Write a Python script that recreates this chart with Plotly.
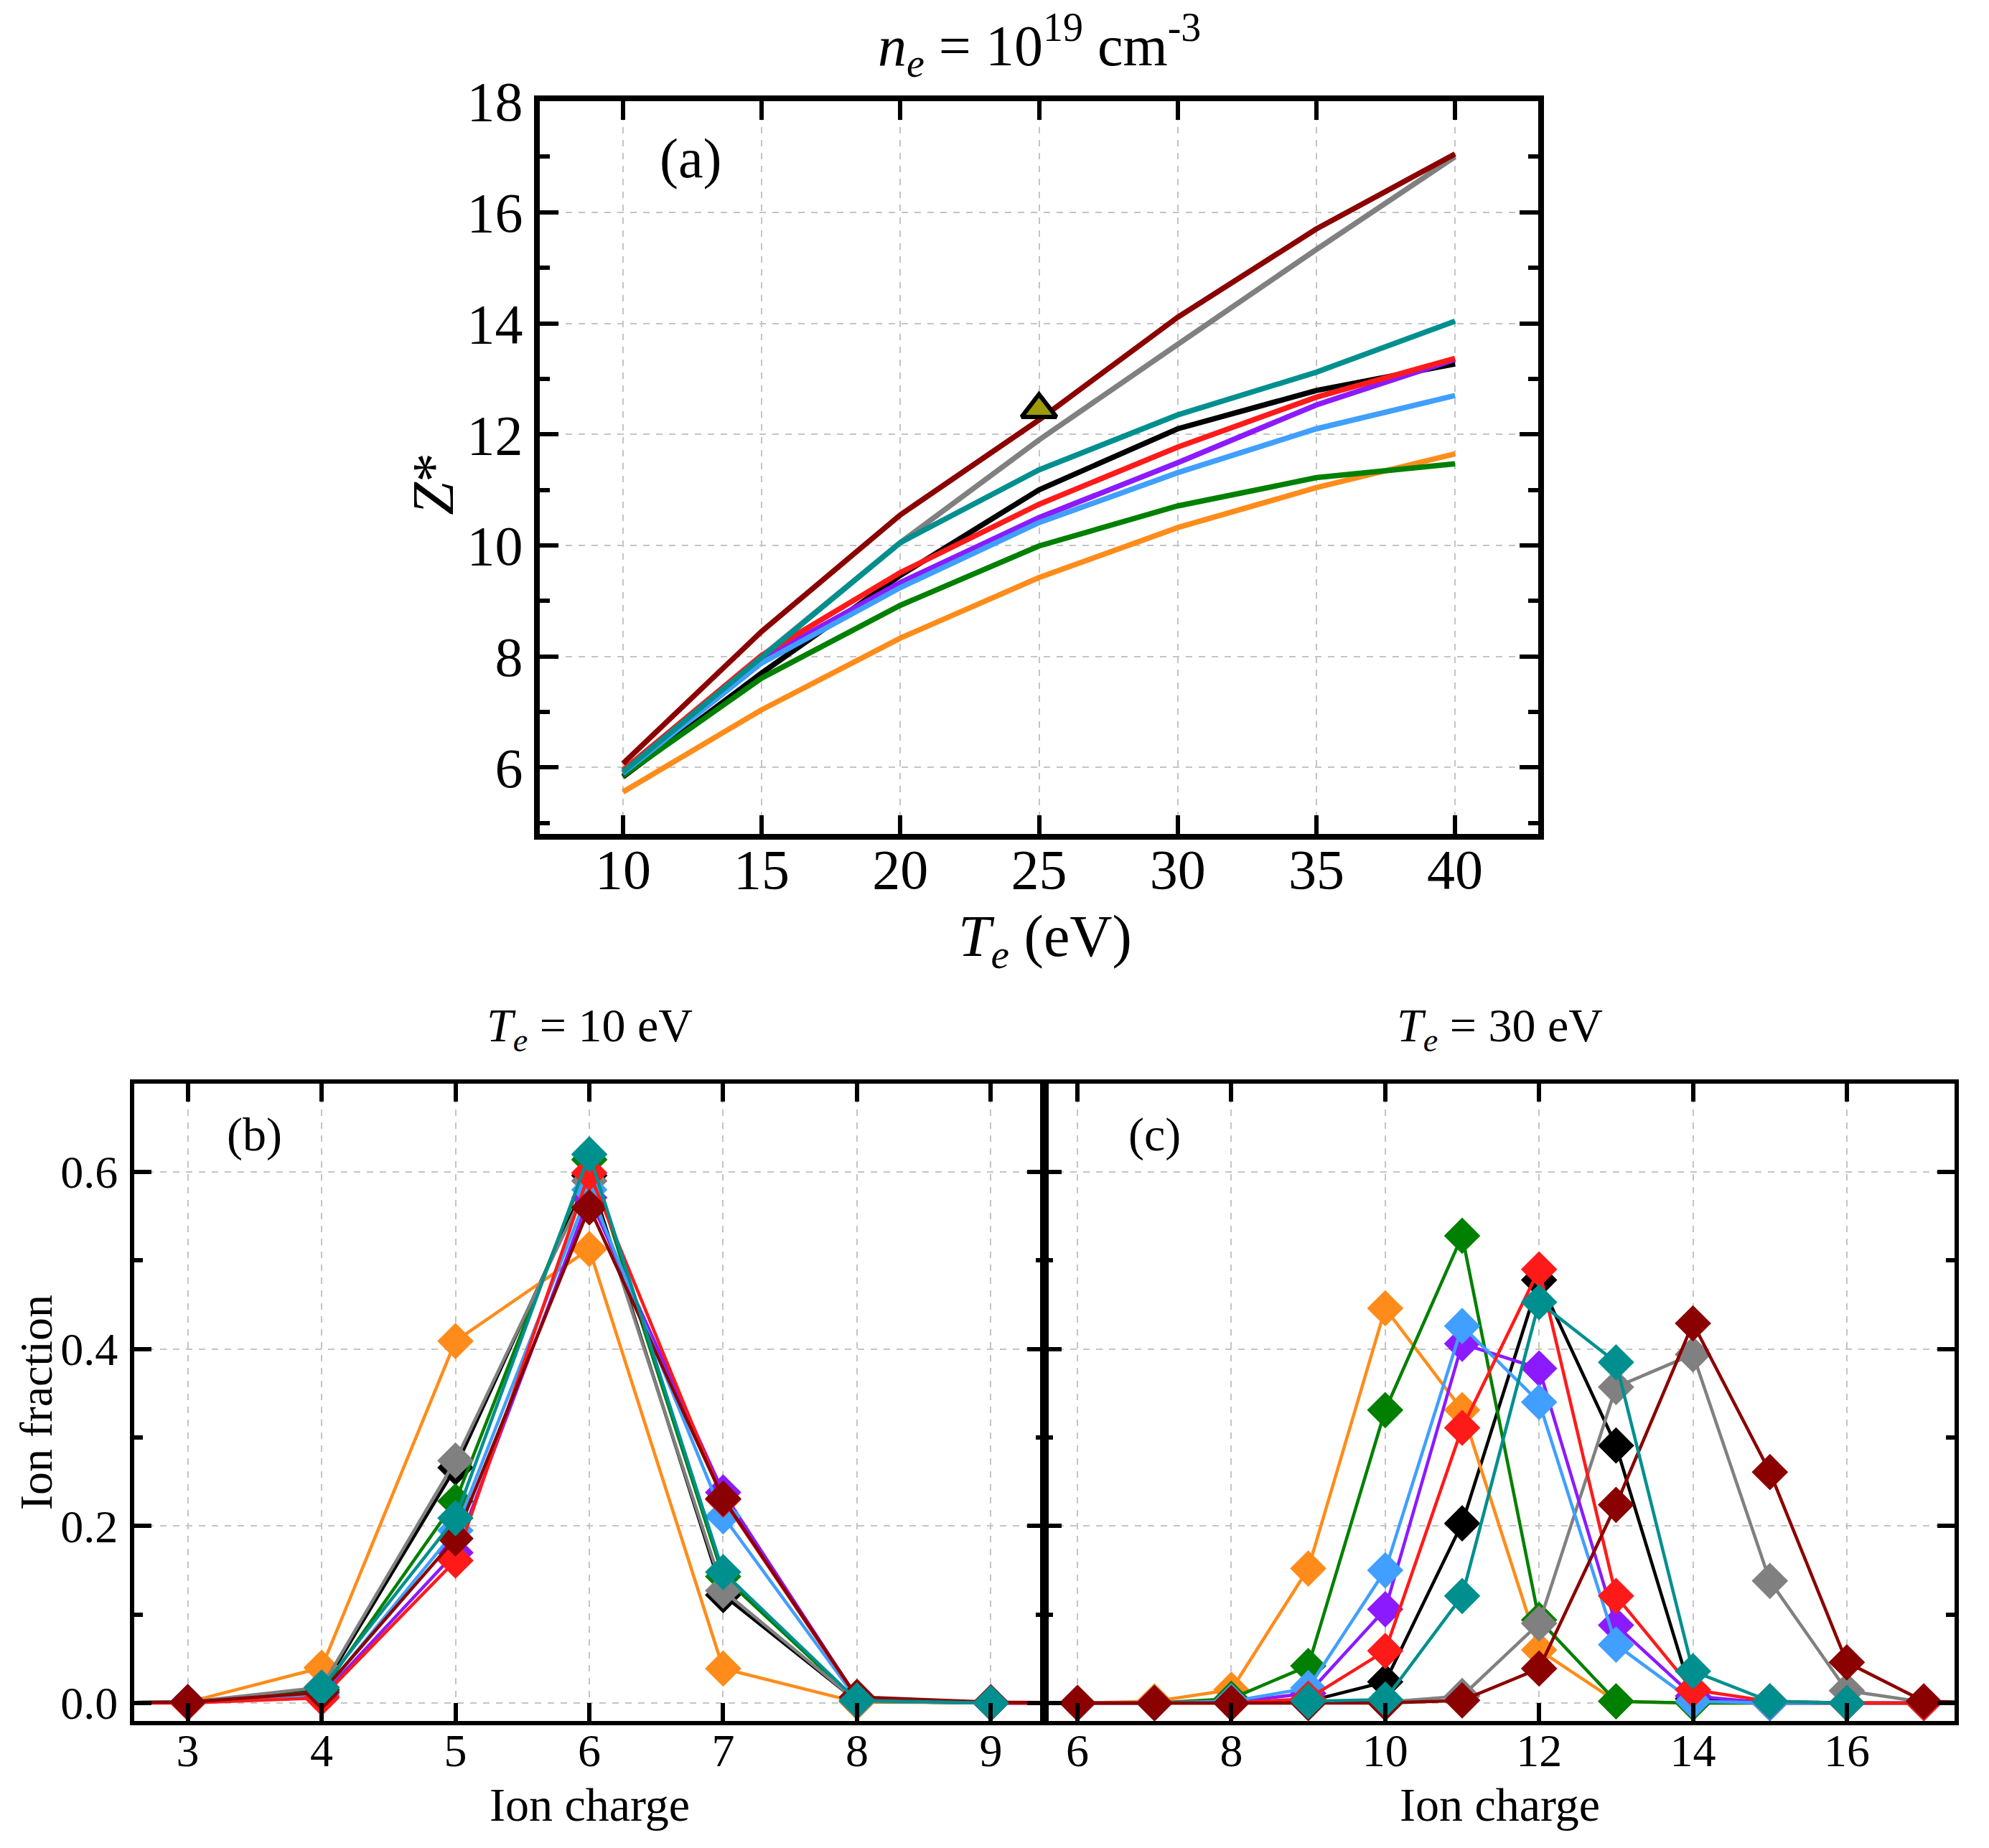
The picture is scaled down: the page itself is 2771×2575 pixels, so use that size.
import plotly.graph_objects as go

# ---------------- data ----------------
# panel (a): mean charge vs electron temperature
te = [10, 15, 20, 25, 30, 35, 40]
z_black = [5.83, 7.70, 9.46, 11.00, 12.10, 12.79, 13.27]
z_orange = [5.56, 7.04, 8.33, 9.42, 10.32, 11.04, 11.65]
z_green = [5.85, 7.61, 8.92, 9.99, 10.71, 11.22, 11.47]
z_gray = [5.90, 8.00, 10.05, 11.90, 13.62, 15.33, 17.00]
z_purple = [5.90, 7.95, 9.33, 10.50, 11.49, 12.53, 13.35]
z_blue = [5.90, 7.88, 9.24, 10.41, 11.31, 12.10, 12.70]
z_red = [5.95, 8.02, 9.51, 10.74, 11.77, 12.67, 13.37]
z_darkred = [6.07, 8.45, 10.55, 12.26, 14.11, 15.70, 17.05]
z_teal = [5.92, 7.97, 10.05, 11.36, 12.35, 13.12, 14.04]
tri_te = [25]
tri_z = [12.45]

# panel (b): ion fractions at Te = 10 eV
charge_b = [2, 3, 4, 5, 6, 7, 8, 9, 10]
b_black = [0, 0.001, 0.015, 0.266, 0.596, 0.122, 0.002, 0, 0]
b_orange = [0, 0.001, 0.040, 0.409, 0.513, 0.039, 0.001, 0, 0]
b_green = [0, 0.001, 0.013, 0.228, 0.614, 0.143, 0.002, 0, 0]
b_gray = [0, 0.001, 0.018, 0.274, 0.590, 0.127, 0.002, 0, 0]
b_purple = [0, 0.001, 0.008, 0.170, 0.571, 0.238, 0.006, 0, 0]
b_blue = [0, 0.001, 0.010, 0.195, 0.580, 0.211, 0.004, 0, 0]
b_red = [0, 0.000, 0.006, 0.161, 0.599, 0.230, 0.006, 0, 0]
b_darkred = [0, 0.001, 0.012, 0.186, 0.560, 0.231, 0.007, 0.001, 0]
b_teal = [None, None, 0.017, 0.209, 0.620, 0.148, 0.003, 0, None]

# panel (c): ion fractions at Te = 30 eV
charge_c = [5, 6, 7, 8, 9, 10, 11, 12, 13, 14, 15, 16, 17, 18]
c_black = [0, 0, 0, 0.001, 0.002, 0.024, 0.203, 0.478, 0.291, 0.005, 0, 0, 0, 0]
c_orange = [0, 0, 0.002, 0.015, 0.152, 0.446, 0.331, 0.060, 0.002, 0, 0, 0, 0, 0]
c_green = [0, 0, 0, 0.005, 0.042, 0.331, 0.528, 0.094, 0.002, 0, 0, 0, 0, 0]
c_gray = [0, 0, 0, 0, 0, 0.001, 0.008, 0.090, 0.357, 0.394, 0.138, 0.014, 0.001, 0]
c_purple = [0, 0, 0, 0.001, 0.011, 0.106, 0.406, 0.378, 0.088, 0.008, 0, 0, 0, 0]
c_blue = [0, 0, 0, 0.002, 0.017, 0.150, 0.426, 0.340, 0.066, 0.002, 0, 0, 0, 0]
c_red = [0, 0, 0, 0, 0.005, 0.059, 0.311, 0.490, 0.121, 0.015, 0.002, 0, 0, 0]
c_darkred = [0, 0, 0, 0, 0, 0, 0.003, 0.039, 0.224, 0.429, 0.261, 0.046, 0.002, 0]
c_teal = [None, None, None, None, 0.002, 0.004, 0.121, 0.453, 0.385, 0.036, 0.002, 0, None, None]

names = ["black", "orange", "green", "gray", "purple", "blue", "red", "darkred", "teal"]
colors = ["#000000", "#ff8c1a", "#008000", "#808080", "#8c1aff",
          "#409fff", "#ff1a1a", "#8b0000", "#008f8f"]
series_a = [z_black, z_orange, z_green, z_gray, z_purple, z_blue, z_red, z_darkred, z_teal]
series_b = [b_black, b_orange, b_green, b_gray, b_purple, b_blue, b_red, b_darkred, b_teal]
series_c = [c_black, c_orange, c_green, c_gray, c_purple, c_blue, c_red, c_darkred, c_teal]

FONT = "Liberation Serif"
W, H = 2771, 2575

fig = go.Figure()

for name, col, ys in zip(names, colors, series_a):
    fig.add_trace(go.Scatter(x=te, y=ys, mode="lines", name=name,
                             line=dict(color=col, width=7.5),
                             xaxis="x", yaxis="y", showlegend=False))

fig.add_trace(go.Scatter(x=tri_te, y=tri_z, mode="markers", name="marker",
                         marker=dict(symbol="triangle-up", size=42, color="#9c9c0a",
                                     line=dict(color="black", width=6)),
                         xaxis="x", yaxis="y", showlegend=False))

for name, col, ys in zip(names, colors, series_b):
    fig.add_trace(go.Scatter(x=charge_b, y=ys, mode="lines+markers", name=name,
                             line=dict(color=col, width=4.5),
                             marker=dict(symbol="diamond", size=39, color=col),
                             xaxis="x2", yaxis="y2", showlegend=False))

for name, col, ys in zip(names, colors, series_c):
    fig.add_trace(go.Scatter(x=charge_c, y=ys, mode="lines+markers", name=name,
                             line=dict(color=col, width=4.5),
                             marker=dict(symbol="diamond", size=39, color=col),
                             xaxis="x3", yaxis="y3", showlegend=False))

grid = dict(showgrid=True, gridcolor="#c4c4c4", griddash="dash", gridwidth=2,
            zeroline=False, showline=True, linecolor="black", mirror="allticks",
            ticks="inside", tickcolor="black")

xa = dict(grid, domain=[744 / W, 2135 / W], anchor="y", range=[7, 43],
          tick0=10, dtick=5, ticklen=26, tickwidth=6, linewidth=8,
          tickfont=dict(family=FONT, size=78, color="black"), ticklabelstandoff=-26)
ya = dict(grid, domain=[1 - 1135 / H, 1 - 92 / H], anchor="x", range=[4.8, 18],
          tick0=0, dtick=2, ticklen=26, tickwidth=6, linewidth=8,
          minor=dict(dtick=1, ticks="inside", ticklen=14, tickwidth=6, tickcolor="black",
                     showgrid=False),
          tickfont=dict(family=FONT, size=78, color="black"), ticklabelstandoff=0)

xb = dict(grid, domain=[179 / W, 1447 / W], anchor="y2", range=[2.6, 9.4],
          tick0=0, dtick=1, ticklen=25, tickwidth=6, linewidth=6,
          tickfont=dict(family=FONT, size=64, color="black"), ticklabelstandoff=-20)
yb = dict(grid, domain=[1 - 2397 / H, 1 - 1490 / H], anchor="x2", range=[-0.02, 0.70],
          tick0=0, dtick=0.2, tickformat=".1f", ticklen=24, tickwidth=6, linewidth=6,
          minor=dict(dtick=0.1, ticks="inside", ticklen=12, tickwidth=6, tickcolor="black",
                     showgrid=False),
          tickfont=dict(family=FONT, size=64, color="black"), ticklabelstandoff=4)

xc = dict(xb, domain=[1447 / W, 2715 / W], anchor="y3", range=[5.57, 17.4], dtick=2)
yc = dict(yb, anchor="x3", showticklabels=False)

fig.update_layout(
    width=W, height=H,
    margin=dict(l=0, r=0, t=0, b=0),
    paper_bgcolor="white", plot_bgcolor="white",
    font=dict(family=FONT, color="black"),
    xaxis=xa, yaxis=ya, xaxis2=xb, yaxis2=yb, xaxis3=xc, yaxis3=yc,
)

texts = [
    # panel (a)
    dict(text="<i>n</i><sub><i>e</i></sub> = 10<sup>19</sup> cm<sup>-3</sup>",
         x=1440 / W, y=1 - 12 / H, size=80, angle=0),
    dict(text="<i>T</i><sub><i>e</i></sub> (eV)", x=1448 / W, y=1 - 1286 / H, size=82, angle=0),
    dict(text="<i>Z</i>*", x=596 / W, y=1 - 637 / H, size=82, angle=-90),
    # panels (b), (c)
    dict(text="<i>T</i><sub><i>e</i></sub> = 10 eV", x=813 / W, y=1 - 1412 / H, size=66, angle=0),
    dict(text="<i>T</i><sub><i>e</i></sub> = 30 eV", x=2081 / W, y=1 - 1412 / H, size=66, angle=0),
    dict(text="Ion charge", x=813 / W, y=1 - 2516 / H, size=66, angle=0),
    dict(text="Ion charge", x=2081 / W, y=1 - 2516 / H, size=66, angle=0),
    dict(text="Ion fraction", x=42 / W, y=1 - 1944 / H, size=64, angle=-90),
]
for t in texts:
    fig.add_annotation(text=t["text"], x=t["x"], y=t["y"], xref="paper", yref="paper",
                       xanchor="center", yanchor="middle", showarrow=False,
                       textangle=t["angle"], font=dict(family=FONT, size=t["size"], color="black"))

labels = [("(a)", "x domain", "y domain", 0.151, 0.922, 78),
          ("(b)", "x2 domain", "y2 domain", 0.132, 0.92, 66),
          ("(c)", "x3 domain", "y3 domain", 0.121, 0.92, 66)]
for txt, xr, yr, lx, ly, fs in labels:
    fig.add_annotation(text=txt, x=lx, y=ly, xref=xr, yref=yr, showarrow=False,
                       xanchor="center", yanchor="middle",
                       font=dict(family=FONT, size=fs, color="black"))

fig.write_html("out.html")
